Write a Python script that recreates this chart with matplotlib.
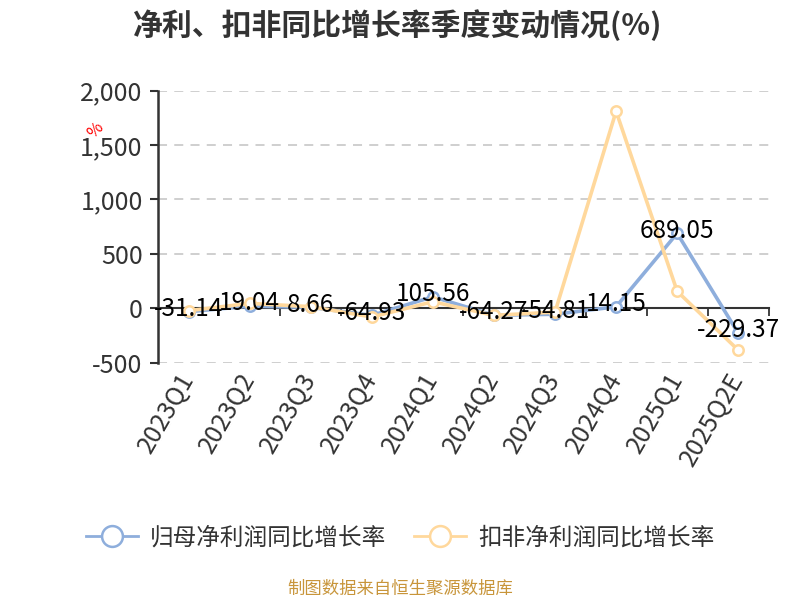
import matplotlib
matplotlib.use("Agg")
import matplotlib.pyplot as plt
import matplotlib.transforms as mtransforms
from matplotlib.lines import Line2D

plt.rcParams['font.family'] = ['Noto Sans CJK SC', 'DejaVu Sans']

quarters = ["2023Q1", "2023Q2", "2023Q3", "2023Q4", "2024Q1",
            "2024Q2", "2024Q3", "2024Q4", "2025Q1", "2025Q2E"]
net_growth = [-31.14, 19.04, 8.66, -64.93, 105.56, -64.27, -54.81, 14.15, 689.05, -229.37]
deducted_growth = [-22, 45, 15, -80, 60, -65, -35, 1810, 156, -385]
y_ticks = [-500, 0, 500, 1000, 1500, 2000]

blue = "#8eaedc"
orange = "#ffd89c"
txt = "#333333"

fig = plt.figure(figsize=(8, 6), dpi=100)
ax = fig.add_axes([0.1975, 0.3955, 0.7635, 0.4535])

x = list(range(len(quarters)))
ax.plot(x, net_growth, color=blue, lw=2.6, marker='o', ms=7.5,
        mfc='white', mec=blue, mew=1.8, zorder=3)
ax.plot(x, deducted_growth, color=orange, lw=2.6, marker='o', ms=7.5,
        mfc='white', mec=orange, mew=1.8, zorder=4)

# labels sit on the points, like the original (they overlap there too)
for xi, v in zip(x, net_growth):
    ax.annotate(f"{v:.2f}", (xi, v), xytext=(0, 2), textcoords='offset points',
                ha='center', va='center', fontsize=17.5, color='black', zorder=6)

ax.set_xlim(-0.5, 9.5)
ax.set_ylim(-500, 2000)
ax.set_yticks(y_ticks)
ax.set_yticklabels([f"{t:,}" for t in y_ticks], fontsize=18, color=txt)
ax.tick_params(axis='y', length=6, width=1.5, color=txt, pad=5)

for t in y_ticks:
    if t != 0:
        ax.axhline(t, color='#cccccc', lw=1.3, ls=(0, (5, 4)), zorder=1)

ax.spines['top'].set_visible(False)
ax.spines['right'].set_visible(False)
ax.spines['left'].set_color(txt)
ax.spines['left'].set_linewidth(1.8)
ax.spines['bottom'].set_position(('data', 0))
ax.spines['bottom'].set_color(txt)
ax.spines['bottom'].set_linewidth(1.5)

ax.set_xticks([i + 0.5 for i in range(len(quarters))])
ax.set_xticklabels([])
ax.tick_params(axis='x', length=6, width=1.3, color=txt, direction='out')

trans = mtransforms.blended_transform_factory(ax.transData, ax.transAxes)
for xi, q in zip(x, quarters):
    ax.text(xi, -0.045, q, transform=trans, rotation=60, rotation_mode='anchor',
            ha='right', va='center', fontsize=18, color=txt)

fig.text(0.119, 0.783, "%", color='red', fontsize=12, rotation=45, ha='center', va='center')

fig.text(0.4975, 0.958, "净利、扣非同比增长率季度变动情况(%)", ha='center', va='center',
         fontsize=21.5, fontweight='bold', color=txt)

handles = [Line2D([], [], color=blue, lw=2, marker='o', ms=15, mfc='white', mec=blue, mew=1.8),
           Line2D([], [], color=orange, lw=2, marker='o', ms=15, mfc='white', mec=orange, mew=1.8)]
fig.legend(handles, ["归母净利润同比增长率", "扣非净利润同比增长率"], loc='center',
           bbox_to_anchor=(0.5, 0.103), ncol=2, frameon=False, fontsize=17,
           handlelength=2.2, handletextpad=0.5, columnspacing=1.2, labelcolor=txt)

fig.text(0.5, 0.018, "制图数据来自恒生聚源数据库", ha='center', va='center',
         fontsize=12.5, color='#c8953a')

fig.savefig("out.png", dpi=100)
